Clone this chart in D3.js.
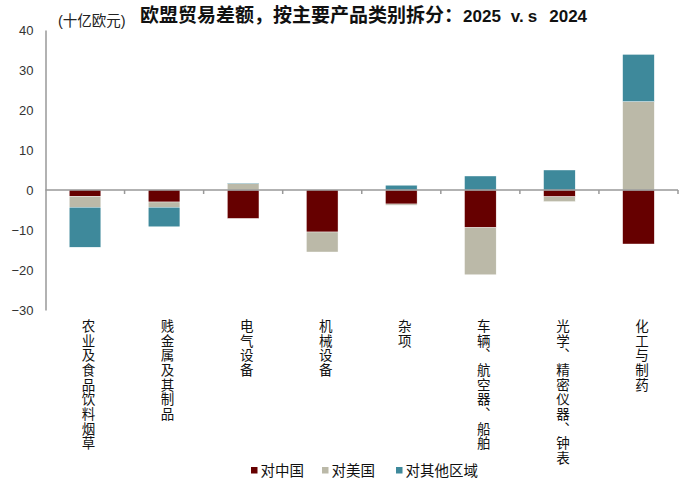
<!DOCTYPE html>
<html><head><meta charset="utf-8">
<script src="https://cdn.jsdelivr.net/npm/d3@7/dist/d3.min.js"></script>
<style>
body{margin:0;background:#fff;}
text{font-family:"Liberation Sans",Arial,"Noto Sans CJK SC",sans-serif;}
.vlabel{writing-mode:vertical-rl;text-orientation:upright;}
</style></head>
<body><svg id="chart" width="693" height="490"></svg>
<script>
const categories = ["农业及食品饮料烟草","贱金属及其制品","电气设备","机械设备","杂项","车辆、航空器、船舶","光学、精密仪器、钟表","化工与制药"];
const seriesNames = ["对中国","对美国","对其他区域"];
const vsChina = [-1.6, -3.0, -7.1, -10.5, -3.5, -9.4, -1.7, -13.5];
const vsUS = [-2.7, -1.3, 1.6, -5.0, -0.3, -11.8, -1.2, 22.1];
const vsOther = [-10.0, -4.9, 0.15, 0, 1.2, 3.5, 5.0, 11.8];
const yTicks = [40, 30, 20, 10, 0, -10, -20, -30];
const colors = ["#660000", "#BBB9A8", "#3E899B"];

const svg = d3.select("#chart");
const m = {left: 45.5, right: 678, top: 30, bottom: 310};

const rows = categories.map((c, i) => ({cat: c, "对中国": vsChina[i], "对美国": vsUS[i], "对其他区域": vsOther[i]}));
const stack = d3.stack().keys(seriesNames).offset(d3.stackOffsetDiverging);
const stacked = stack(rows);

const x = d3.scaleBand().domain(categories).range([m.left, m.right]).paddingInner(0.6).paddingOuter(0.3);
const xb = d3.scaleBand().domain(categories).range([m.left, m.right]);
const y = d3.scaleLinear().domain([-30, 40]).range([m.bottom, m.top]);

// bars
svg.append("g").selectAll("g").data(stacked).join("g")
  .attr("fill", (d, i) => colors[i])
  .selectAll("rect").data(d => d).join("rect")
  .attr("x", d => x(d.data.cat))
  .attr("width", x.bandwidth())
  .attr("y", d => y(Math.max(d[0], d[1])))
  .attr("height", d => Math.abs(y(d[0]) - y(d[1])))
  .attr("stroke", "#fff").attr("stroke-width", 0.4);

// y axis
const yAxis = d3.axisLeft(y).tickValues(yTicks).tickSize(0).tickPadding(12).tickFormat(d3.format("d"));
const gy = svg.append("g").attr("transform", `translate(${m.left},0)`).call(yAxis);
gy.select(".domain").attr("stroke", "#999").attr("stroke-width", 1.5);
gy.selectAll("text").attr("font-size", 13).attr("fill", "#333").attr("font-family", "Liberation Sans, Arial, sans-serif");

// zero line with ticks at band boundaries
const zeroG = svg.append("g");
zeroG.append("line").attr("x1", m.left).attr("x2", m.right).attr("y1", y(0)).attr("y2", y(0))
  .attr("stroke", "#999").attr("stroke-width", 1.5);
const boundaries = categories.map(c => xb(c) + xb.bandwidth());
zeroG.selectAll("line.tk").data(boundaries).join("line").attr("class", "tk")
  .attr("x1", d => d).attr("x2", d => d).attr("y1", y(0)).attr("y2", y(0) + 4)
  .attr("stroke", "#999").attr("stroke-width", 1.5);

// x labels (vertical writing mode)
svg.append("g").selectAll("text").data(categories).join("text")
  .attr("class", "vlabel")
  .attr("x", c => xb(c) + xb.bandwidth() / 2 + 2)
  .attr("y", 319)
  .attr("font-size", 13.5)
  .attr("letter-spacing", 1.2)
  .attr("fill", "#111")
  .attr("font-family", "Noto Sans CJK SC, sans-serif")
  .text(c => c);

// title
const title = svg.append("text").attr("x", 140).attr("y", 22)
  .attr("font-weight", "bold").attr("fill", "#111")
  .attr("font-family", "Liberation Sans, Arial, Noto Sans CJK SC, sans-serif");
title.append("tspan").attr("font-size", 19).attr("font-family", "Noto Sans CJK SC, sans-serif")
  .text("欧盟贸易差额，按主要产品类别拆分：");
title.append("tspan").attr("font-size", 17).text("2025");
title.append("tspan").attr("font-size", 17).attr("dx", 10).text("v.");
title.append("tspan").attr("font-size", 17).attr("dx", 4).text("s");
title.append("tspan").attr("font-size", 17).attr("dx", 12).text("2024");

svg.append("text").attr("x", 58).attr("y", 26)
  .attr("font-size", 14.5).attr("fill", "#222")
  .attr("font-family", "Liberation Sans Narrow, Noto Sans CJK SC, sans-serif")
  .text("(十亿欧元)");

// legend
const legX = [251, 322, 396];
const leg = svg.append("g").selectAll("g").data(seriesNames).join("g")
  .attr("transform", (d, i) => `translate(${legX[i]},0)`);
leg.append("rect").attr("x", 0).attr("y", 467).attr("width", 6.5).attr("height", 6.5)
  .attr("fill", (d, i) => colors[i]);
leg.append("text").attr("x", 9.5).attr("y", 476).attr("font-size", 14.5).attr("fill", "#111")
  .attr("font-family", "Noto Sans CJK SC, sans-serif").text(d => d);
</script></body></html>
